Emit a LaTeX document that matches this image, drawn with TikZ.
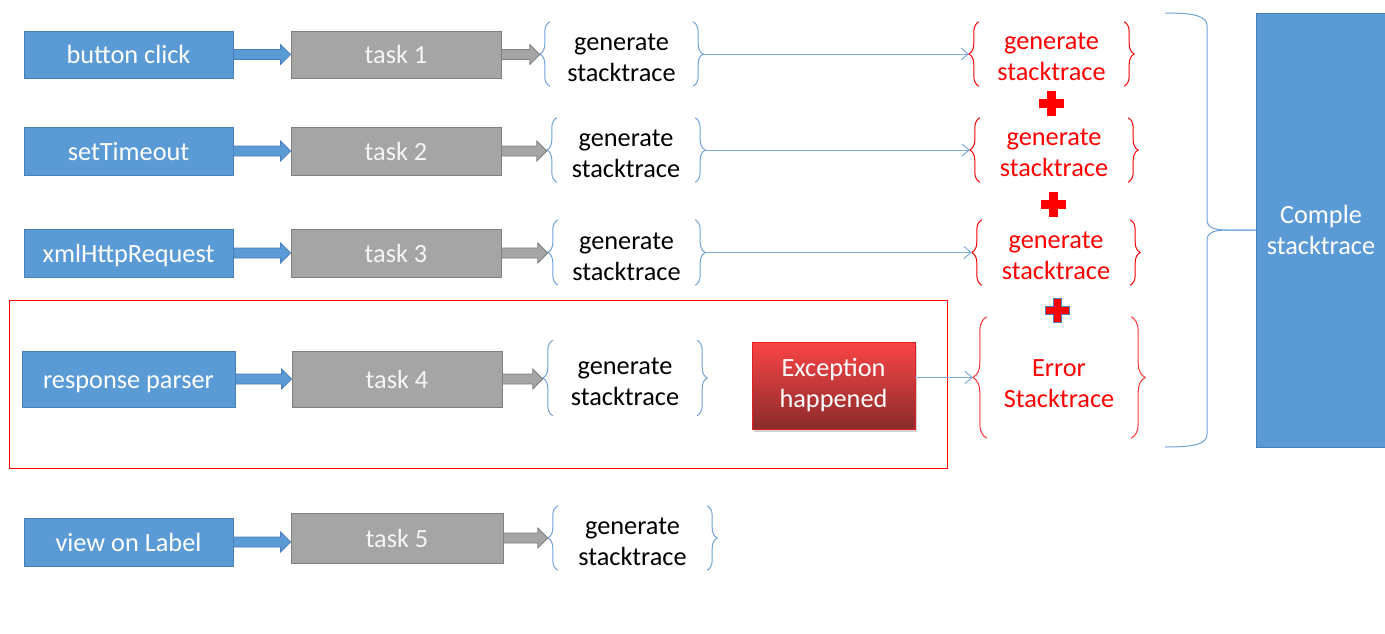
\documentclass[tikz,border=0pt]{standalone}
\usepackage{fontspec}
\setmainfont{Carlito}
\usetikzlibrary{decorations.pathreplacing,calc,arrows.meta,shadows}
\definecolor{boxblue}{HTML}{5B9BD5}
\definecolor{boxblueD}{HTML}{4A7EBB}
\definecolor{boxgray}{HTML}{A5A5A5}
\definecolor{boxgrayD}{HTML}{808080}
\definecolor{linkblue}{HTML}{7EADDC}
\definecolor{bracecol}{HTML}{6FA3D8}
\definecolor{exTop}{HTML}{FA4446}
\definecolor{exBot}{HTML}{8B2B2B}
\definecolor{exEdge}{HTML}{E02020}
\begin{document}
\begin{tikzpicture}[x=1pt,y=-1pt,
  txt/.style={font=\fontsize{26.3pt}{31pt}\selectfont, align=center, inner sep=0pt},
  onetxt/.style={txt, text height=18.5pt, text depth=0pt},
  srcbox/.style={onetxt, fill=boxblue, draw=boxblueD, line width=0.8pt, text=white, minimum width=209pt, minimum height=47pt},
  taskbox/.style={onetxt, fill=boxgray, draw=boxgrayD, line width=0.8pt, text=white!96!black, minimum width=210pt, minimum height=47pt},
  gen/.style={txt, text=black},
  redgen/.style={txt, text=red},
  bracel/.style 2 args={draw=#1, line width=1pt, decorate, decoration={brace, amplitude=#2}},
  barrow/.style 2 args={fill=#1, draw=#2, line width=0.8pt,
    to path={let \p1=(\tikztostart), \p2=(\tikztotarget) in
      (\x1,\y1+5pt) -- (\x2-10pt,\y1+5pt) -- (\x2-10pt,\y1+10pt) -- (\x2,\y1)
      -- (\x2-10pt,\y1-10pt) -- (\x2-10pt,\y1-5pt) -- (\x1,\y1-5pt) -- cycle}},
  linkarrow/.style={draw=linkblue, line width=1pt, -{Straight Barb[length=7pt,width=12pt]}},
  pics/plussign/.style={code={\path[pic actions] (-4,-12) -- (4,-12) -- (4,-4) -- (12,-4) -- (12,4) -- (4,4)
      -- (4,12) -- (-4,12) -- (-4,4) -- (-12,4) -- (-12,-4) -- (-4,-4) -- cycle;}}
]
\useasboundingbox (0,0) rectangle (1385,633);
\fill[white] (0,0) rectangle (1385,633);

% red frame around row 4
\node[draw=red, line width=1pt, minimum width=938pt, minimum height=168pt, inner sep=0pt] (frame) at (478,384) {};

% sources
\node[srcbox] (s1) at (128.5,54.5) {button click};
\node[srcbox, minimum height=48pt] (s2) at (128.5,151) {setTimeout};
\node[srcbox, minimum height=48pt] (s3) at (128.5,253) {xmlHttpRequest};
\node[srcbox, minimum width=213pt, minimum height=56pt] (s4) at (128.5,379) {response parser};
\node[srcbox, minimum height=48pt] (s5) at (128.5,542) {view on Label};

% tasks
\node[taskbox] (t1) at (396,54.5) {task 1};
\node[taskbox, minimum height=48pt] (t2) at (396,151) {task 2};
\node[taskbox, minimum height=48pt] (t3) at (396,253) {task 3};
\node[taskbox, minimum height=56pt] (t4) at (397,379) {task 4};
\node[taskbox, minimum width=212pt, minimum height=50pt] (t5) at (397,538) {task 5};

% generate stacktrace (blue braces); text sits 4px below the brace centre
\node[gen, minimum width=143pt, minimum height=64pt] (g1) at (621.5,58) {generate\\stacktrace};
\node[gen, minimum width=138pt, minimum height=64pt] (g2) at (626,154) {generate\\stacktrace};
\node[gen, minimum width=137pt, minimum height=65pt] (g3) at (626.5,256.5) {generate\\stacktrace};
\node[gen, minimum width=144pt, minimum height=75pt] (g4) at (625,382) {generate\\stacktrace};
\node[gen, minimum width=149pt, minimum height=64pt] (g5) at (632.5,542) {generate\\stacktrace};
\foreach \g in {g1,g2,g3,g4,g5}{
  \draw[bracel={bracecol}{10pt}] ([yshift=4pt]\g.south west) -- ([yshift=4pt]\g.north west);
  \draw[bracel={bracecol}{10pt}] ([yshift=4pt]\g.north east) -- ([yshift=4pt]\g.south east);
  \coordinate (\g l) at ($([yshift=4pt]\g.west)+(-10,0)$);
  \coordinate (\g r) at ($([yshift=4pt]\g.east)+(10,0)$);
}

% red braces
\node[redgen, minimum width=145pt, minimum height=64pt] (r1) at (1051.5,57) {generate\\stacktrace};
\node[redgen, minimum width=148pt, minimum height=64pt] (r2) at (1054,153) {generate\\stacktrace};
\node[redgen, minimum width=148pt, minimum height=65pt] (r3) at (1056,255.5) {generate\\stacktrace};
\foreach \r in {r1,r2,r3}{
  \draw[bracel={red}{10pt}] ([yshift=3pt]\r.south west) -- ([yshift=3pt]\r.north west);
  \draw[bracel={red}{10pt}] ([yshift=3pt]\r.north east) -- ([yshift=3pt]\r.south east);
  \coordinate (\r l) at ($([yshift=3pt]\r.west)+(-10,0)$);
}
\node[redgen, minimum width=144pt, minimum height=121pt] (r4) at (1059,383.5) {Error\\Stacktrace};
\draw[bracel={red!80!white}{14pt}] ([yshift=6pt]r4.south west) -- ([yshift=6pt]r4.north west);
\draw[bracel={red!80!white}{14pt}] ([yshift=6pt]r4.north east) -- ([yshift=6pt]r4.south east);
\coordinate (r4l) at ($([yshift=6pt]r4.west)+(-14,0)$);

% exception
\node[txt, text=white, top color=exTop, bottom color=exBot, draw=exEdge, line width=0.8pt,
  minimum width=163pt, minimum height=87pt,
  drop shadow={shadow xshift=2pt, shadow yshift=-3pt, opacity=0.35}] (ex) at (833.5,385.5) {Exception\\happened};

% complete stacktrace box
\node[txt, text=white, fill=boxblue, draw=boxblueD, line width=0.8pt,
  minimum width=130pt, minimum height=434pt] (big) at (1321,230) {Comple\\stacktrace};

% block arrows
\foreach \i in {1,...,5}{
  \draw[barrow={boxblue}{boxblueD}] (s\i.east) to (t\i.west);
  \draw[barrow={boxgray}{boxgrayD}] (t\i.east) to (g\i l);
}

% thin links
\draw[linkarrow] (g1r) -- (r1l);
\draw[linkarrow] (g2r) -- (r2l);
\draw[linkarrow] (g3r) -- (r3l);
\draw[linkarrow] (ex.east |- r4l) -- (r4l);

% plus signs
\pic[fill=red, draw=red, line width=0.5pt] at (1051,103) {plussign};
\pic[fill=red, draw=red, line width=0.5pt] at (1053,204) {plussign};
\pic[fill=red, draw=boxblueD, line width=1pt] at (1057,310) {plussign};

% big brace
\draw[bracecol, line width=1pt] (1165,13) .. controls (1195,13) and (1207,16) .. (1207,26) -- (1207,219)
  .. controls (1207,227) and (1212,230) .. (1228,230) -- (big.west);
\draw[bracecol, line width=1pt] (big.west) -- (1228,230) .. controls (1212,230) and (1207,233) .. (1207,241)
  -- (1207,434) .. controls (1207,444) and (1195,447) .. (1165,447);
\end{tikzpicture}
\end{document}
